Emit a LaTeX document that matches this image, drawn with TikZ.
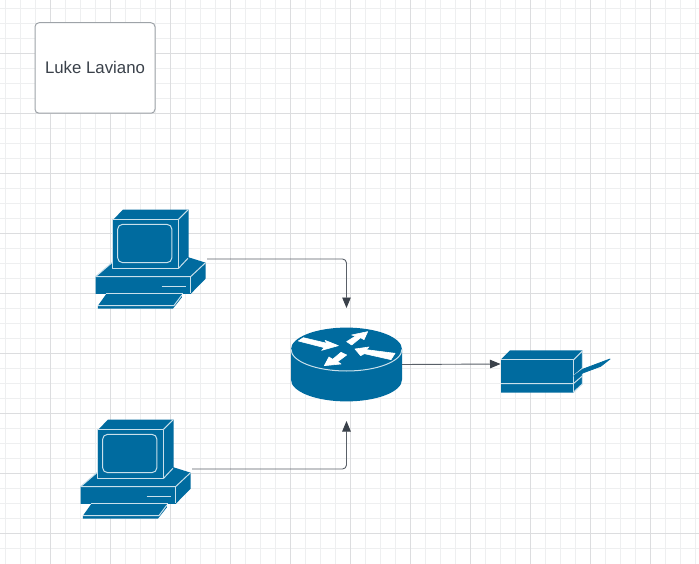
\documentclass[tikz,border=0pt]{standalone}
\usepackage{fontspec}
\setmainfont{Liberation Sans}
\usetikzlibrary{arrows.meta}
\definecolor{shapeblue}{HTML}{006B9F}
\definecolor{shapeline}{HTML}{C9E0EB}
\definecolor{minorgrid}{HTML}{EEEFF0}
\definecolor{majorgrid}{HTML}{DCDDDF}
\definecolor{inkgrey}{HTML}{3A414A}
\definecolor{wiregrey}{HTML}{5A6068}
\definecolor{boxedge}{HTML}{9EA3A8}
\tikzset{
  devfill/.style={fill=shapeblue,draw=none},
  devline/.style={draw=shapeline,line width=1pt,line join=round},
  whitearrow/.style={fill=white,draw=white,line width=0.6pt,line join=round},
  slot/.style={inner sep=0pt,outer sep=0pt,draw=none,fill=none},
  connector/.style={draw=wiregrey,line width=0.9pt,rounded corners=4pt,-{Triangle[length=10.5pt,width=8.5pt,color=inkgrey]}},
  namebox/.style={draw=boxedge,line width=1pt,fill=white,rounded corners=4pt,minimum width=120pt,minimum height=90.5pt,inner sep=0pt,text=inkgrey,font=\fontsize{16.8}{20}\selectfont}
}
\newcommand{\drawcomputer}[2]{%
  \begin{scope}[shift={(79.6+#1,200+#2)},x=0.3333pt,y=-0.3333pt]
    \fill[devfill] (100,60)--(130,29)--(327,29)--(327,172)--(378,188)--(378,236)--(333,282)--(48,282)--(48,230)--(97,188)--(100,188)--cycle;
    \fill[devfill] (80,282)--(307,282)--(307,292)--(280,326)--(55,326)--(55,317)--cycle;
    \draw[devline] (100,58)--(297,58)--(297,205)--(100,205)--cycle;
    \draw[devline] (297,58)--(325,30);
    \draw[devline] (297,205)--(325,175);
    \draw[devline,rounded corners=5pt] (114,73) rectangle (277,188);
    \draw[devline] (48,230)--(333,230)--(378,188);
    \draw[devline] (333,230)--(333,280);
    \draw[devline] (48,230)--(97,188);
    \draw[devline] (246,259)--(318,259);
    \draw[devline] (55,317)--(283,317)--(307,285);
    \draw[devline] (78,281)--(310,281);
  \end{scope}}
\begin{document}
\begin{tikzpicture}[x=1pt,y=-1pt]
  \useasboundingbox (0,0) rectangle (699,564);
  \fill[white] (0,0) rectangle (699,564);
  % grid
  \foreach \gx in {5,20,...,695} \draw[minorgrid,line width=0.8pt] (\gx,0)--(\gx,564);
  \foreach \gy in {8,23,...,560} \draw[minorgrid,line width=0.8pt] (0,\gy)--(699,\gy);
  \foreach \gx in {50,110,...,695} \draw[majorgrid,line width=0.8pt] (\gx,0)--(\gx,564);
  \foreach \gy in {53,113,...,560} \draw[majorgrid,line width=0.8pt] (0,\gy)--(699,\gy);
  % title box
  \node[namebox] (title) at (95,68) {\raisebox{1pt}{Luke Laviano}};
  % computers
  \drawcomputer{0}{0}
  \drawcomputer{-15}{210}
  \node[slot,minimum width=111pt,minimum height=100pt] (pca) at (151.5,259) {};
  \node[slot,minimum width=111pt,minimum height=100pt] (pcb) at (136.5,469) {};
  % router
  \fill[devfill] (291,349.3) -- (291,379.7) arc[start angle=180,end angle=360,x radius=55.5pt,y radius=21.7pt] -- (402,349.3) -- cycle;
  \fill[devfill] (346.5,349.3) ellipse[x radius=55.5pt,y radius=21.7pt];
  \draw[devline] (291,349.3) arc[start angle=180,end angle=360,x radius=55.5pt,y radius=21.7pt];
  \begin{scope}[shift={(295,325)},x=0.3333pt,y=-0.3333pt]
    \filldraw[whitearrow] (10,48)--(25,38)--(96,55)--(90,46)--(130,62)--(80,76)--(88,68)--cycle;
    \filldraw[whitearrow] (155,50)--(182,33)--(170,30)--(218,20)--(207,44)--(197,38)--(170,60)--cycle;
    \filldraw[whitearrow] (180,72)--(222,66)--(214,74)--(300,85)--(288,104)--(208,86)--(197,92)--cycle;
    \filldraw[whitearrow] (88,122)--(102,96)--(113,103)--(138,82)--(155,90)--(128,110)--(138,117)--cycle;
  \end{scope}
  \node[slot,minimum width=111pt,minimum height=113pt] (router) at (346.5,364.5) {};
  % printer
  \begin{scope}[shift={(490,340)},x=0.3333pt,y=-0.3333pt]
    \fill[devfill] (33,58)--(60,31)--(277,31)--(277,132)--(250,158)--(33,158)--cycle;
    \draw[devline] (33,60)--(250,60)--(250,157);
    \draw[devline] (250,60)--(277,33)--(277,132)--(250,157);
    \draw[devline] (33,131)--(250,131)--(277,108);
    \draw[devline] (250,108)--(277,85);
  \end{scope}
  \begin{scope}[shift={(570,345)},x=0.3333pt,y=-0.3333pt]
    \filldraw[fill=shapeblue,draw=shapeblue,line width=0.8pt,line join=round] (12,92)--(40,72)--(120,42)--(92,64)--(38,84)--(15,100)--cycle;
  \end{scope}
  \node[slot,minimum width=111pt,minimum height=56pt] (printer) at (556,364) {};
  % connectors
  \draw[connector] (pca.east) -| (router.north);
  \draw[connector] (pcb.east) -| (router.south);
  \draw[connector] (router.east) -- (printer.west);
\end{tikzpicture}
\end{document}
